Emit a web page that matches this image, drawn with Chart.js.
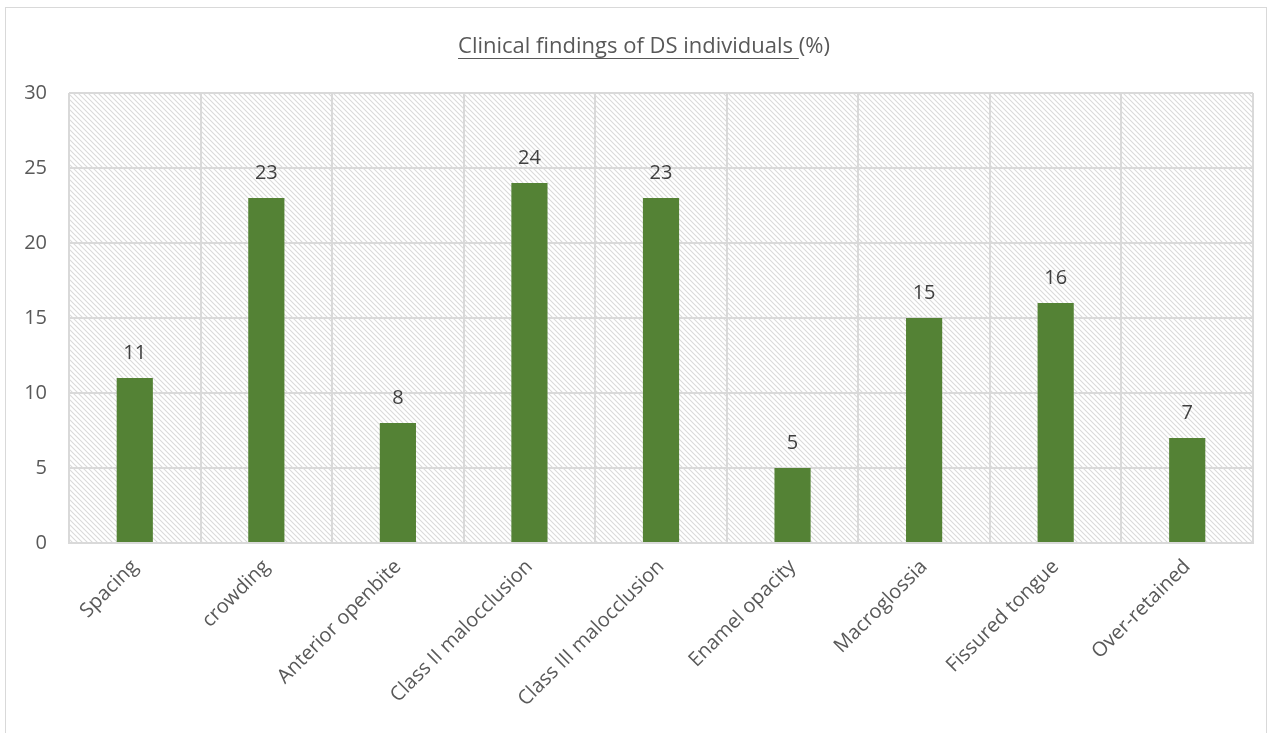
<!DOCTYPE html>
<html>
<head>
<meta charset="utf-8">
<script src="https://cdn.jsdelivr.net/npm/chart.js@4"></script>
<style>
  html, body { margin: 0; padding: 0; background: #fff; }
  #wrap { position: absolute; left: 5px; top: 7px; width: 1262px; height: 740px; border: 1px solid #d9d9d9; box-sizing: border-box; }
  #chartBox { position: absolute; left: 0; top: 0; width: 1269px; height: 733px; }
</style>
</head>
<body>
<div id="wrap"></div>
<div id="chartBox"><canvas id="chart"></canvas></div>
<script>
// chart data
const categories = ["Spacing", "crowding", "Anterior openbite", "Class II malocclusion", "Class III malocclusion", "Enamel opacity", "Macroglossia", "Fissured tongue", "Over-retained"];
const percentages = [11, 23, 8, 24, 23, 5, 15, 16, 7];
const yTicks = [0, 5, 10, 15, 20, 25, 30];

const fontFamily = "'Open Sans', 'Liberation Sans', sans-serif";

// diagonal hatch for the plot background
function makeHatch() {
    const c = document.createElement("canvas");
    c.width = 5; c.height = 5;
    const g = c.getContext("2d");
    g.fillStyle = "#ffffff";
    g.fillRect(0, 0, 5, 5);
    g.strokeStyle = "#dadada";
    g.lineWidth = 1.1;
    g.beginPath();
    g.moveTo(-1, -1); g.lineTo(6, 6);
    g.moveTo(-1, 4); g.lineTo(1, 6);
    g.moveTo(4, -1); g.lineTo(6, 1);
    g.stroke();
    return c;
}

const hatchPlugin = {
    id: "hatch",
    beforeDraw(chart) {
        const { ctx, chartArea } = chart;
        ctx.save();
        ctx.fillStyle = ctx.createPattern(makeHatch(), "repeat");
        ctx.fillRect(chartArea.left, chartArea.top, chartArea.right - chartArea.left, chartArea.bottom - chartArea.top);
        ctx.restore();
    }
};

// title with the underline stopping before "(%)"
const titlePlugin = {
    id: "underlinedTitle",
    afterDraw(chart) {
        const ctx = chart.ctx;
        const part1 = "Clinical findings of DS individuals ";
        const part2 = "(%)";
        ctx.save();
        ctx.font = "22px " + fontFamily;
        ctx.fillStyle = "#595959";
        ctx.textBaseline = "alphabetic";
        const w1 = ctx.measureText(part1).width;
        const w2 = ctx.measureText(part2).width;
        const x0 = 644 - (w1 + w2) / 2;
        const yb = 53;
        ctx.textAlign = "left";
        ctx.fillText(part1, x0, yb);
        ctx.fillText(part2, x0 + w1, yb);
        ctx.strokeStyle = "#595959";
        ctx.lineWidth = 1;
        ctx.beginPath();
        ctx.moveTo(x0, yb + 5.5);
        ctx.lineTo(x0 + w1, yb + 5.5);
        ctx.stroke();
        ctx.restore();
    }
};

// value labels above the bars
const valueLabels = {
    id: "valueLabels",
    afterDatasetsDraw(chart) {
        const ctx = chart.ctx;
        const meta = chart.getDatasetMeta(0);
        ctx.save();
        ctx.font = "20px " + fontFamily;
        ctx.fillStyle = "#404040";
        ctx.textAlign = "center";
        ctx.textBaseline = "middle";
        meta.data.forEach((bar, i) => {
            ctx.fillText(String(percentages[i]), bar.x, bar.y - 25);
        });
        ctx.restore();
    }
};

new Chart(document.getElementById("chart"), {
    type: "bar",
    data: {
        labels: categories,
        datasets: [{
            data: percentages,
            backgroundColor: "#548235",
            borderWidth: 0,
            barPercentage: 0.55,
            categoryPercentage: 0.5
        }]
    },
    options: {
        responsive: true,
        maintainAspectRatio: false,
        animation: false,
        layout: { padding: { top: 93, right: 16, left: 0, bottom: 0 } },
        plugins: {
            legend: { display: false },
            title: { display: false },
            tooltip: { enabled: false }
        },
        scales: {
            x: {
                grid: { display: true, offset: true, color: "#d9d9d9", lineWidth: 2, drawTicks: false },
                border: { color: "#d9d9d9", width: 2 },
                ticks: {
                    color: "#595959",
                    font: { size: 20, family: fontFamily },
                    maxRotation: 45,
                    minRotation: 45,
                    padding: 12
                },
                afterFit(scale) { scale.height = 190; }
            },
            y: {
                min: 0,
                max: 30,
                afterBuildTicks(scale) { scale.ticks = yTicks.map(v => ({ value: v })); },
                grid: { color: "#d9d9d9", lineWidth: 2, drawTicks: false },
                border: { display: false },
                ticks: {
                    color: "#595959",
                    font: { size: 20, family: fontFamily },
                    padding: 22
                },
                afterFit(scale) { scale.width = 69; }
            }
        }
    },
    plugins: [hatchPlugin, valueLabels, titlePlugin]
});
</script>
</body>
</html>
